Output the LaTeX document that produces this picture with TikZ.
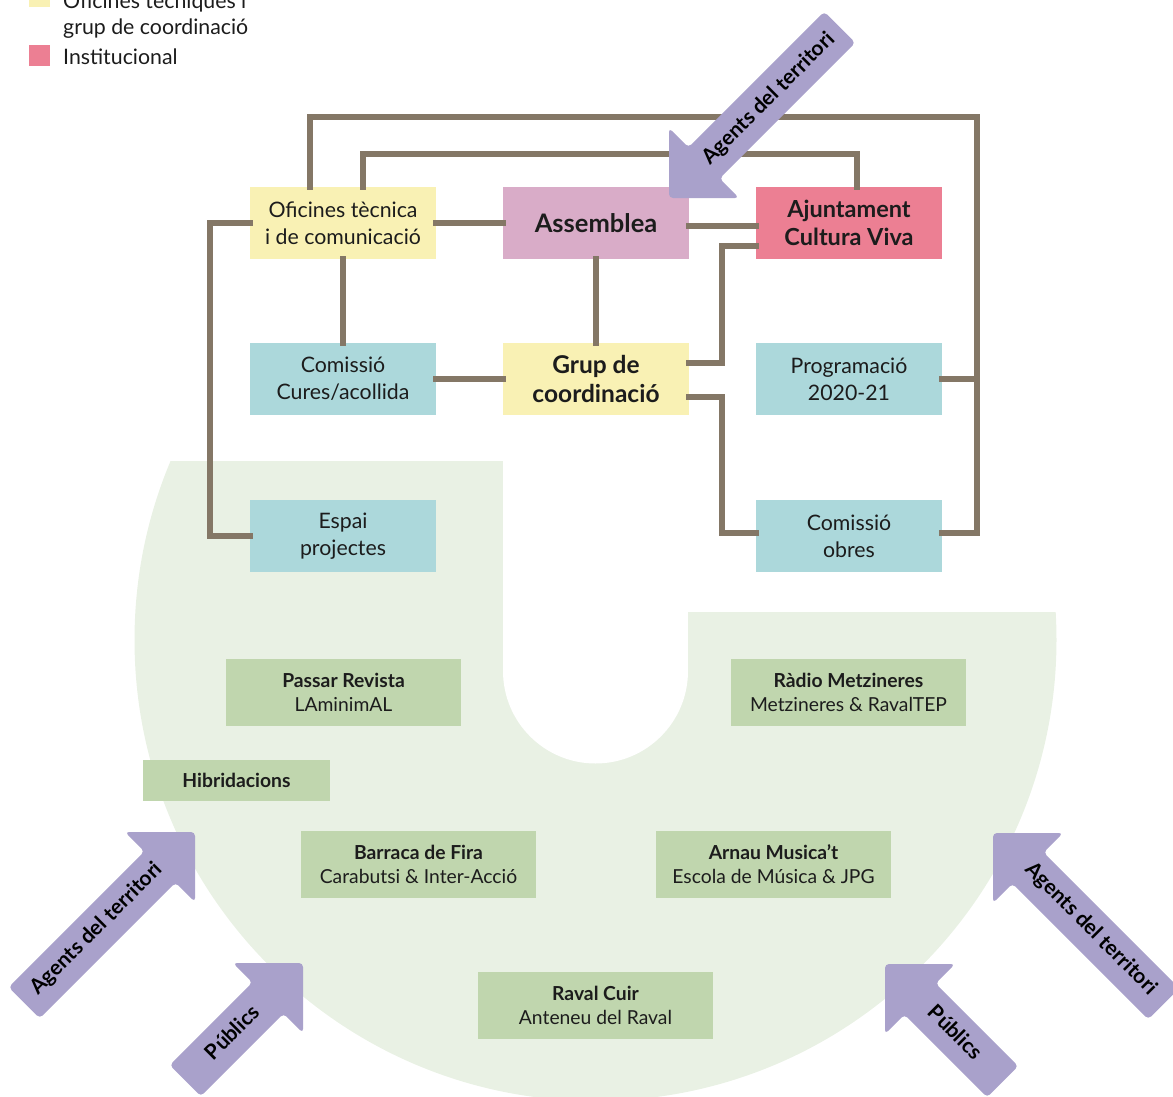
\documentclass[tikz,border=0pt]{standalone}
\usepackage{fontspec}
\setmainfont{Lato}
\usetikzlibrary{calc}
\definecolor{cyel}{HTML}{F9F1B4}
\definecolor{cmau}{HTML}{D9ACC8}
\definecolor{cpink}{HTML}{EC7F93}
\definecolor{cblue}{HTML}{ACD8DB}
\definecolor{cgbox}{HTML}{C0D6AE}
\definecolor{cgbg}{HTML}{E9F1E4}
\definecolor{cpur}{HTML}{A9A1CB}
\definecolor{cline}{HTML}{847766}
\definecolor{ctext}{HTML}{1C1C1C}
\newcommand\myblockarrow[3]{%
  \begin{scope}[shift={#1}, rotate=#2]
    \fill[cpur, rounded corners=4pt] (0,0) -- (-49.5,49.5) -- (-49.5,22) -- (-49.5-#3,22)
      -- (-49.5-#3,-22) -- (-49.5,-22) -- (-49.5,-49.5) -- cycle;
  \end{scope}}
\begin{document}
\begin{tikzpicture}[x=1pt,y=-1pt,
  box/.style={minimum width=186pt, minimum height=72pt, inner sep=0pt, align=center, text=ctext,
    font=\fontsize{21.3}{27}\selectfont},
  gbox/.style={fill=cgbox, minimum width=235pt, minimum height=67pt, inner sep=0pt, align=center, text=ctext,
    font=\fontsize{19.3}{24}\selectfont},
  conn/.style={draw=cline, line width=6pt, line join=miter, line cap=rect},
  atext/.style={font=\bfseries\fontsize{21}{24}\selectfont, text=black, inner sep=0pt},
  legtext/.style={font=\fontsize{21.3}{26}\selectfont, text=ctext, align=left, inner sep=0pt}
]
\useasboundingbox (0,0) rectangle (1173,1097);
\clip (0,0) rectangle (1173,1097);
% green background
\begin{scope}
  \clip (0,461) -- (503,461) -- (503,612) -- (1173,612) -- (1173,1200) -- (0,1200) -- cycle;
  \fill[cgbg] (595.5,640) circle (461);
\end{scope}
\fill[white] (503,400) rectangle (688,671);
\fill[white] (595.5,671) circle (92.5);

% legend
\fill[cyel] (29,-14) rectangle (50,7);
\node[legtext, anchor=north west] (leg1) at (63,-7) {Oficines tècniques i\\grup de coordinació};
\fill[cpink] (29,45) rectangle (50,66);
\node[legtext, anchor=west] (leg2) at (63,57) {Institucional};

% top boxes
\node[box, fill=cyel] (ofi) at (343,223) {Oficines tècnica\\i de comunicació};
\node[box, fill=cmau, font=\bfseries\fontsize{25.5}{28}\selectfont] (asm) at (596,223) {Assemblea};
\node[box, fill=cpink, font=\bfseries\fontsize{23.5}{28}\selectfont] (ajt) at (849,223) {Ajuntament\\Cultura Viva};
\node[box, fill=cblue] (cur) at (343,379) {Comissió\\Cures/acollida};
\node[box, fill=cyel, font=\bfseries\fontsize{24.5}{29}\selectfont] (grup) at (596,379) {Grup de\\coordinació};
\node[box, fill=cblue] (prog) at (849,379) {Programació\\2020-21};
\node[box, fill=cblue] (espai) at (343,536) {Espai\\projectes};
\node[box, fill=cblue] (obres) at (849,536) {Comissió\\obres};

% connectors
\coordinate (tr) at (977,117);
\coordinate (it) at (857,154);
\coordinate (k1) at (722,363);
\coordinate (k2) at (722,533);
\coordinate (k3) at (210,536);
\draw[conn] ([xshift=-33pt]ofi.north) |- (tr) |- ([yshift=3pt]obres.east);
\draw[conn] ([xshift=20pt]ofi.north) |- (it) -- ([xshift=8pt]ajt.north);
\draw[conn] (ofi.east) -- (asm.west);
\draw[conn] ([yshift=-3pt]asm.east) -- ([yshift=-3pt]ajt.west);
\draw[conn] ([yshift=-23pt]ajt.west) -| (k1) -- ([yshift=16pt]grup.east);
\draw[conn] ([yshift=-18pt]grup.east) -| (k2) -- ([yshift=3pt]obres.west);
\draw[conn] (ofi.south) -- (cur.north);
\draw[conn] (asm.south) -- (grup.north);
\draw[conn] (cur.east) -- (grup.west);
\draw[conn] (ofi.west) -| (k3) -- (espai.west);
\draw[conn] (prog.east) -- (prog.east -| tr);

% green boxes
\node[gbox] (pas) at (343.5,692.5) {\textbf{Passar Revista}\\LAminimAL};
\node[gbox] (rad) at (848.5,692.5) {\textbf{Ràdio Metzineres}\\Metzineres \& RavalTEP};
\node[gbox, minimum width=187pt, minimum height=41pt] (hib) at (236.5,780.5) {\textbf{Hibridacions}};
\node[gbox] (bar) at (418.5,864.5) {\textbf{Barraca de Fira}\\Carabutsi \& Inter-Acció};
\node[gbox] (arn) at (773.5,864.5) {\textbf{Arnau Musica’t}\\Escola de Música \& JPG};
\node[gbox] (rav) at (595.5,1005.5) {\textbf{Raval Cuir}\\Anteneu del Raval};

% block arrows
\myblockarrow{(669,198)}{225}{192}
\myblockarrow{(195,832)}{45}{192}
\myblockarrow{(303,963)}{45}{117}
\myblockarrow{(993,833)}{135}{192}
\myblockarrow{(885,964)}{135}{117}
\node[atext, rotate=45] (a1) at (769,99) {Agents del territori};
\node[atext, rotate=45] (a2) at (97,929) {Agents del territori};
\node[atext, rotate=45] (a3) at (232,1032) {Públics};
\node[atext, rotate=-45] (a4) at (1091,929) {Agents del territori};
\node[atext, rotate=-45] (a5) at (956,1032) {Públics};
\end{tikzpicture}
\end{document}
